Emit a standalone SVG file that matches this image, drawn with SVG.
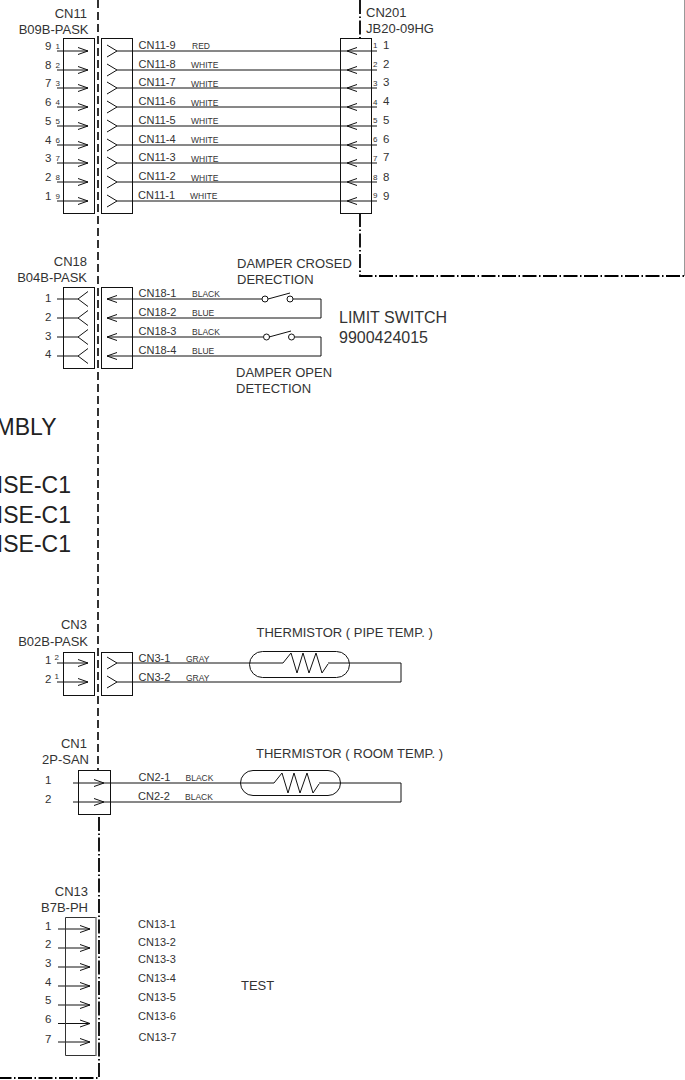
<svg xmlns="http://www.w3.org/2000/svg" xmlns:xlink="http://www.w3.org/1999/xlink" width="685" height="1080" viewBox="0 0 685 1080">
<style>
text{font-family:"Liberation Sans",Arial,sans-serif;fill:#333}
.l{font-size:13px}.w{font-size:11px}.c{font-size:8.5px}.n{font-size:11.5px}.s{font-size:8px}.b{font-size:16px}.h{font-size:23px;fill:#222}
.e{text-anchor:end}
.box,.ln{fill:none;stroke:#111;stroke-width:1}
.dash{fill:none;stroke:#000;stroke-width:1.6;stroke-dasharray:8 4}
.dd{fill:none;stroke:#000;stroke-width:1.8;stroke-dasharray:14 2.5 1.5 2.5}
</style>
<defs>
<path id="aR" class="ln" d="M-10-3.5L0 0L-10 3.5"/>
<path id="aL" class="ln" d="M10-3.5L0 0L10 3.5"/>
<path id="aRb" class="ln" d="M-10-6L0 0L-10 6"/>
<path id="aLb" class="ln" d="M10-7.5L0 0L10 7.5"/>
<g id="res"><path class="ln" d="M0 0L8-10L14 10L20-10L26 10L33-10L39 10L45 1"/></g>
</defs>

<g id="boundary">
<path class="dash" d="M98 0V770"/>
<path class="dd" d="M99 817V1078H0"/>
<path class="dd" d="M360 0V38M360 213V276H684"/>
<path d="M684.500 0V276" fill="none" stroke="#999" stroke-width="1"/>
</g>

<g id="connectors">
<path class="ln" d="M57 51H88M57 70H88M57 88H88M57 107H88M57 126H88M57 145H88M57 163H88M57 182H88M57 201H88"/>
<path class="ln" d="M117 51H377M117 70H377M117 88H377M117 107H377M117 126H377M117 145H377M117 163H377M117 182H377M117 201H377"/>
<path class="ln" d="M57 299H78M57 318H78M57 337H78M57 356H78"/>
<path class="ln" d="M107 299H262M268 299L290 293M293 299H321V318H107"/>
<path class="ln" d="M107 337H263M269 337L291 331M295 337H321V356H107"/>
<path class="ln" d="M57 663H88M57 682H88"/>
<path class="ln" d="M117 663H283M328 663H401V682H117"/>
<path class="ln" d="M73 783H104M104 783H274M319 783H401V802H73"/>
<path class="ln" d="M58 929H90M58 948H90M58 967H90M58 986H90M58 1005H90M58 1023.500H90M58 1042H90"/>
</g>

<g id="cn11">
<rect class="box" x="63.500" y="38.500" width="31" height="175"/>
<text class="l e" x="87" y="18">CN11</text><text class="l e" x="88.500" y="34">B09B-PASK</text>
<use xlink:href="#aR" x="88" y="51"/><use xlink:href="#aR" x="88" y="70"/><use xlink:href="#aR" x="88" y="88"/><use xlink:href="#aR" x="88" y="107"/><use xlink:href="#aR" x="88" y="126"/><use xlink:href="#aR" x="88" y="145"/><use xlink:href="#aR" x="88" y="163"/><use xlink:href="#aR" x="88" y="182"/><use xlink:href="#aR" x="88" y="201"/>
<text class="n" x="45" y="50">9</text><text class="n" x="45" y="69">8</text><text class="n" x="45" y="87">7</text><text class="n" x="45" y="106">6</text><text class="n" x="45" y="125">5</text><text class="n" x="45" y="144">4</text><text class="n" x="45" y="162">3</text><text class="n" x="45" y="181">2</text><text class="n" x="45" y="200">1</text>
<text class="s" x="55.500" y="49">1</text><text class="s" x="55.500" y="68">2</text><text class="s" x="55.500" y="86">3</text><text class="s" x="55.500" y="105">4</text><text class="s" x="55.500" y="124">5</text><text class="s" x="55.500" y="143">6</text><text class="s" x="55.500" y="161">7</text><text class="s" x="55.500" y="180">8</text><text class="s" x="55.500" y="199">9</text>
</g>

<g id="cn11-mate">
<rect class="box" x="101.500" y="38.500" width="31" height="175"/>
<use xlink:href="#aRb" x="117" y="51"/><use xlink:href="#aRb" x="117" y="70"/><use xlink:href="#aRb" x="117" y="88"/><use xlink:href="#aRb" x="117" y="107"/><use xlink:href="#aRb" x="117" y="126"/><use xlink:href="#aRb" x="117" y="145"/><use xlink:href="#aRb" x="117" y="163"/><use xlink:href="#aRb" x="117" y="182"/><use xlink:href="#aRb" x="117" y="201"/>
<text class="w" x="138.500" y="49">CN11-9</text><text class="w" x="138.500" y="68">CN11-8</text><text class="w" x="138.500" y="86">CN11-7</text><text class="w" x="138.500" y="105">CN11-6</text><text class="w" x="138.500" y="124">CN11-5</text><text class="w" x="138.500" y="142.500">CN11-4</text><text class="w" x="138.500" y="161">CN11-3</text><text class="w" x="138.500" y="180">CN11-2</text><text class="w" x="138" y="199">CN11-1</text>
<text class="c" x="192" y="49">RED</text><text class="c" x="191" y="68">WHITE</text><text class="c" x="191" y="86.500">WHITE</text><text class="c" x="191" y="105.500">WHITE</text><text class="c" x="191" y="124">WHITE</text><text class="c" x="191" y="143">WHITE</text><text class="c" x="191" y="161.500">WHITE</text><text class="c" x="191" y="180.500">WHITE</text><text class="c" x="190" y="199">WHITE</text>
</g>

<g id="cn201">
<rect class="box" x="340.500" y="38.500" width="31" height="175"/>
<text class="l" x="366" y="17">CN201</text><text class="l" x="366" y="33">JB20-09HG</text>
<use xlink:href="#aL" x="347" y="51"/><use xlink:href="#aL" x="347" y="70"/><use xlink:href="#aL" x="347" y="88"/><use xlink:href="#aL" x="347" y="107"/><use xlink:href="#aL" x="347" y="126"/><use xlink:href="#aL" x="347" y="145"/><use xlink:href="#aL" x="347" y="163"/><use xlink:href="#aL" x="347" y="182"/><use xlink:href="#aL" x="347" y="201"/>
<text class="s" x="373" y="48">1</text><text class="s" x="373" y="67">2</text><text class="s" x="373" y="85.500">3</text><text class="s" x="373" y="104.500">4</text><text class="s" x="373" y="123">5</text><text class="s" x="373" y="142">6</text><text class="s" x="373" y="160.500">7</text><text class="s" x="373" y="179.500">8</text><text class="s" x="373" y="198">9</text>
<text class="n" x="383" y="48.500">1</text><text class="n" x="383" y="67.500">2</text><text class="n" x="383" y="86">3</text><text class="n" x="383" y="105">4</text><text class="n" x="383" y="124">5</text><text class="n" x="383" y="143">6</text><text class="n" x="383" y="161">7</text><text class="n" x="383" y="181">8</text><text class="n" x="383" y="200">9</text>
</g>

<g id="cn18">
<rect class="box" x="63.500" y="287.500" width="31" height="81"/>
<text class="l e" x="87" y="265.500">CN18</text><text class="l e" x="87" y="282">B04B-PASK</text>
<use xlink:href="#aLb" x="78" y="299"/><use xlink:href="#aLb" x="78" y="318"/><use xlink:href="#aLb" x="78" y="337"/><use xlink:href="#aLb" x="78" y="356"/>
<text class="n" x="45" y="302">1</text><text class="n" x="45" y="320.500">2</text><text class="n" x="45" y="339.500">3</text><text class="n" x="45" y="358">4</text>
</g>

<g id="cn18-mate">
<rect class="box" x="101.500" y="287.500" width="31" height="81"/>
<use xlink:href="#aL" x="107" y="299"/><use xlink:href="#aL" x="107" y="318"/><use xlink:href="#aL" x="107" y="337"/><use xlink:href="#aL" x="107" y="356"/>
<text class="w" x="138.500" y="297">CN18-1</text><text class="w" x="138.500" y="316">CN18-2</text><text class="w" x="138.500" y="335">CN18-3</text><text class="w" x="138.500" y="354">CN18-4</text>
<text class="c" x="192" y="297">BLACK</text><text class="c" x="192" y="316">BLUE</text><text class="c" x="192" y="335">BLACK</text><text class="c" x="192" y="354">BLUE</text>
</g>

<g id="limit-switch">
<circle class="ln" cx="265" cy="299" r="3"/><circle class="ln" cx="290" cy="299" r="3"/>
<circle class="ln" cx="266.500" cy="337" r="3"/><circle class="ln" cx="291.500" cy="337" r="3"/>
<text class="l" x="237" y="268">DAMPER CROSED</text><text class="l" x="237" y="284">DERECTION</text>
<text class="b" x="339" y="323">LIMIT SWITCH</text><text class="b" x="339" y="343">9900424015</text>
<text class="l" x="236" y="377">DAMPER OPEN</text><text class="l" x="236" y="393">DETECTION</text>
</g>

<g id="assembly-note">
<text class="h e" x="56.500" y="435">MBLY</text>
<text class="h e" x="71" y="493">ISE-C1</text><text class="h e" x="71" y="523">ISE-C1</text><text class="h e" x="71" y="552">ISE-C1</text>
</g>

<g id="cn3">
<rect class="box" x="63.500" y="652.500" width="31" height="43"/>
<text class="l e" x="87" y="629">CN3</text><text class="l e" x="88" y="646">B02B-PASK</text>
<use xlink:href="#aR" x="88" y="663"/><use xlink:href="#aR" x="88" y="682"/>
<text class="n" x="45" y="663.500">1</text><text class="n" x="45" y="682.500">2</text>
<text class="s" x="54.500" y="660">2</text><text class="s" x="54.500" y="679">1</text>
</g>

<g id="cn3-mate">
<rect class="box" x="101.500" y="652.500" width="31" height="43"/>
<use xlink:href="#aRb" x="117" y="663"/><use xlink:href="#aRb" x="117" y="682"/>
<text class="w" x="138.500" y="661.500">CN3-1</text><text class="w" x="138.500" y="680.500">CN3-2</text>
<text class="c" x="186" y="661.500">GRAY</text><text class="c" x="186" y="680.500">GRAY</text>
</g>

<g id="thermistor-pipe">
<rect x="249.500" y="651.500" width="100" height="26" rx="13" fill="none" stroke="#111"/>
<use xlink:href="#res" x="283" y="663"/>
<text class="l" x="256.500" y="637">THERMISTOR ( PIPE TEMP. )</text>
</g>

<g id="cn1">
<rect class="box" x="78.500" y="770.500" width="32" height="44"/>
<text class="l e" x="87" y="748">CN1</text><text class="l e" x="89" y="764">2P-SAN</text>
<use xlink:href="#aR" x="104" y="783"/><use xlink:href="#aR" x="104" y="802"/>
<text class="n" x="45" y="784">1</text><text class="n" x="45" y="802.500">2</text>
<text class="w" x="138.500" y="781">CN2-1</text><text class="w" x="138" y="800">CN2-2</text>
<text class="c" x="185.500" y="781">BLACK</text><text class="c" x="185" y="800">BLACK</text>
</g>

<g id="thermistor-room">
<rect x="240.500" y="770.500" width="100" height="25" rx="12.500" fill="none" stroke="#111"/>
<use xlink:href="#res" x="274" y="783"/>
<text class="l" x="256" y="758">THERMISTOR ( ROOM TEMP. )</text>
</g>

<g id="cn13">
<path d="M65.500 917.500H96M65.500 917.500V1055.500H96" fill="none" stroke="#333"/>
<path d="M96 917V1056" fill="none" stroke="#777" stroke-width="1.500"/>
<text class="l e" x="88" y="896">CN13</text><text class="l e" x="88" y="912">B7B-PH</text>
<use xlink:href="#aR" x="90" y="929"/><use xlink:href="#aR" x="90" y="948"/><use xlink:href="#aR" x="90" y="967"/><use xlink:href="#aR" x="90" y="986"/><use xlink:href="#aR" x="90" y="1005"/><use xlink:href="#aR" x="90" y="1023.500"/><use xlink:href="#aR" x="90" y="1042"/>
<text class="n" x="45" y="930">1</text><text class="n" x="45" y="948">2</text><text class="n" x="45" y="967">3</text><text class="n" x="45" y="986">4</text><text class="n" x="45" y="1004">5</text><text class="n" x="45" y="1023">6</text><text class="n" x="45" y="1043">7</text>
<text class="w" x="138" y="928">CN13-1</text><text class="w" x="138" y="946">CN13-2</text><text class="w" x="138" y="963">CN13-3</text><text class="w" x="138" y="982">CN13-4</text><text class="w" x="138" y="1001">CN13-5</text><text class="w" x="138" y="1020">CN13-6</text><text class="w" x="138.500" y="1041">CN13-7</text>
<text class="l" x="241" y="990">TEST</text>
</g>
</svg>
